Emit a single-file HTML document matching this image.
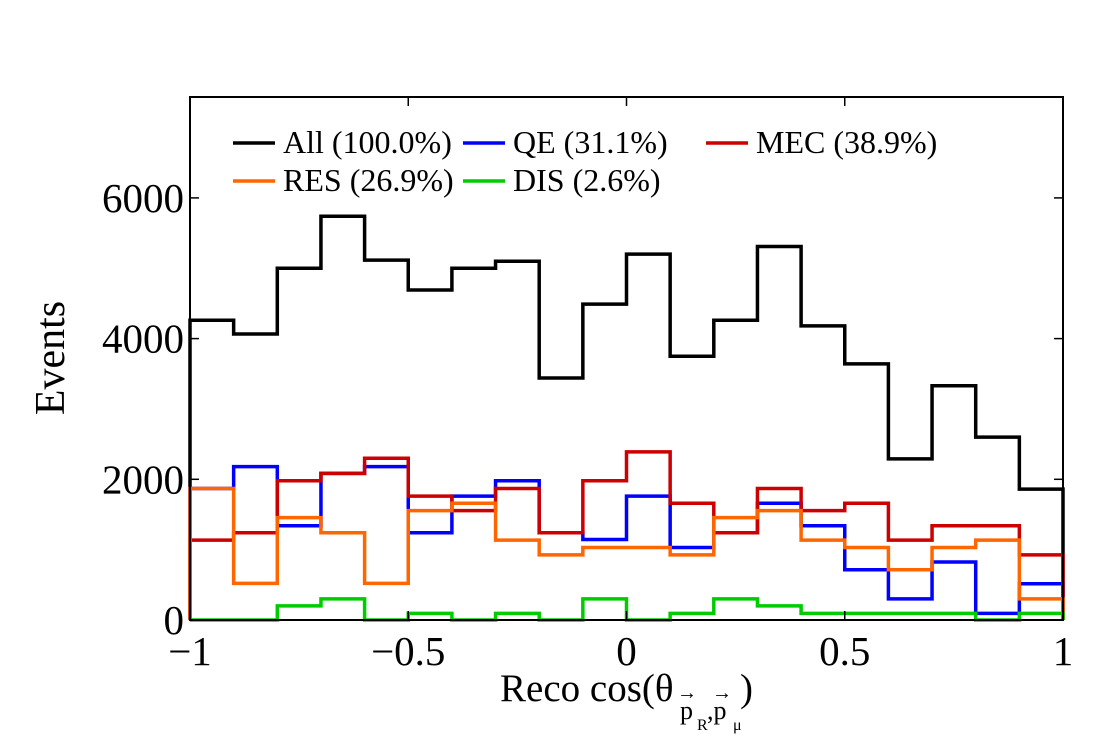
<!DOCTYPE html>
<html><head><meta charset="utf-8"><style>
html,body{margin:0;padding:0;background:#fff;}
svg{display:block;font-family:"Liberation Serif",serif;}
</style></head><body>
<svg id="chart" width="1120" height="740" viewBox="0 0 1120 740">
<rect x="0" y="0" width="1120" height="740" fill="#fff"/>
<g id="series"></g>
<rect x="190" y="97" width="873" height="523" fill="none" stroke="#000" stroke-width="2"/>
<g id="ticks"></g>
<text x="64" y="358" font-size="42" text-anchor="middle" transform="rotate(-90 64 358)">Events</text>
<g>
<text x="500" y="701" font-size="39">Reco cos(θ</text>
<text x="680" y="719" font-size="26">p</text><text x="697" y="730" font-size="16">R</text><text x="707" y="719" font-size="26">,p</text><text x="733" y="730" font-size="16">μ</text>
<text x="677" y="699" font-size="20">→</text><text x="712" y="699" font-size="20">→</text>
<text x="740" y="701" font-size="39">)</text>
</g>
<g id="legend"></g>
</svg>
<script>
const binEdges=[-1,-0.9,-0.8,-0.7,-0.6,-0.5,-0.4,-0.3,-0.2,-0.1,0,0.1,0.2,0.3,0.4,0.5,0.6,0.7,0.8,0.9,1];
const allVals=[4260,4065,5000,5740,5115,4690,5000,5100,3440,4490,5200,3750,4260,5310,4180,3640,2290,3330,2600,1860];
const qeVals=[1870,2180,1340,2085,2180,1240,1760,1980,1240,1145,1760,1030,1240,1660,1340,715,300,825,95,515];
const mecVals=[1135,1240,1980,2085,2300,1760,1555,1870,1240,1980,2390,1660,1240,1870,1555,1660,1135,1340,1340,925];
const resVals=[1870,520,1455,1240,520,1555,1660,1135,925,1030,1030,925,1455,1555,1135,1030,715,1030,1135,300];
const disVals=[0,0,200,300,0,95,0,95,0,300,0,95,300,200,95,95,95,95,0,95];
const xTicks=[-1,-0.5,0,0.5,1];
const xTickLabels=["−1","−0.5","0","0.5","1"];
const yTicks=[0,2000,4000,6000];
const yTickLabels=["0","2000","4000","6000"];
const NS="http://www.w3.org/2000/svg";
const X=v=>190+(v+1)/2*873;
const Y=v=>620-v*140.7/2000;
function el(tag,attrs,parent){const e=document.createElementNS(NS,tag);for(const k in attrs)e.setAttribute(k,attrs[k]);parent.appendChild(e);return e;}
const g=document.getElementById('series');
const series=[[allVals,'#000','series-all'],[qeVals,'#0000ff','series-qe'],[mecVals,'#cc0000','series-mec'],[resVals,'#ff6600','series-res'],[disVals,'#00cc00','series-dis']];
series.forEach(([vals,col,name])=>{
 let d='M'+X(binEdges[0])+' '+Y(0);
 vals.forEach((v,i)=>{d+=' L'+X(binEdges[i])+' '+Y(v)+' L'+X(binEdges[i+1])+' '+Y(v);});
 d+=' L'+X(binEdges[binEdges.length-1])+' '+Y(0);
 const p=el('path',{d:d,fill:'none',stroke:col,'stroke-width':3.5},g);
 
 
});
const t=document.getElementById('ticks');
xTicks.forEach((v,i)=>{
 el('line',{x1:X(v),x2:X(v),y1:620,y2:611,stroke:'#000','stroke-width':1.5},t);
 el('line',{x1:X(v),x2:X(v),y1:97,y2:106,stroke:'#000','stroke-width':1.5},t);
 const tx=el('text',{x:X(v),y:665,'font-size':41,'text-anchor':'middle'},t);
 tx.textContent=xTickLabels[i];
 
 
});
yTicks.forEach((v,i)=>{
 el('line',{x1:190,x2:199,y1:Y(v),y2:Y(v),stroke:'#000','stroke-width':1.5},t);
 el('line',{x1:1063,x2:1054,y1:Y(v),y2:Y(v),stroke:'#000','stroke-width':1.5},t);
 const tx=el('text',{x:184,y:Y(v)+14,'font-size':41,'text-anchor':'end'},t);
 tx.textContent=yTickLabels[i];
 
 
});
const lg=document.getElementById('legend');
const entries=[[233,143,'#000','All (100.0%)'],[463,143,'#0000ff','QE (31.1%)'],[706,143,'#cc0000','MEC (38.9%)'],[233,181,'#ff6600','RES (26.9%)'],[463,181,'#00cc00','DIS (2.6%)']];
entries.forEach(([x,y,c,label])=>{
 const gg=el('g',{},lg);
 
 
 el('line',{x1:x,x2:x+42,y1:y,y2:y,stroke:c,'stroke-width':3.5},gg);
 const tx=el('text',{x:x+50,y:y+10,'font-size':32},gg);
 tx.textContent=label;
});
</script>
</body></html>
